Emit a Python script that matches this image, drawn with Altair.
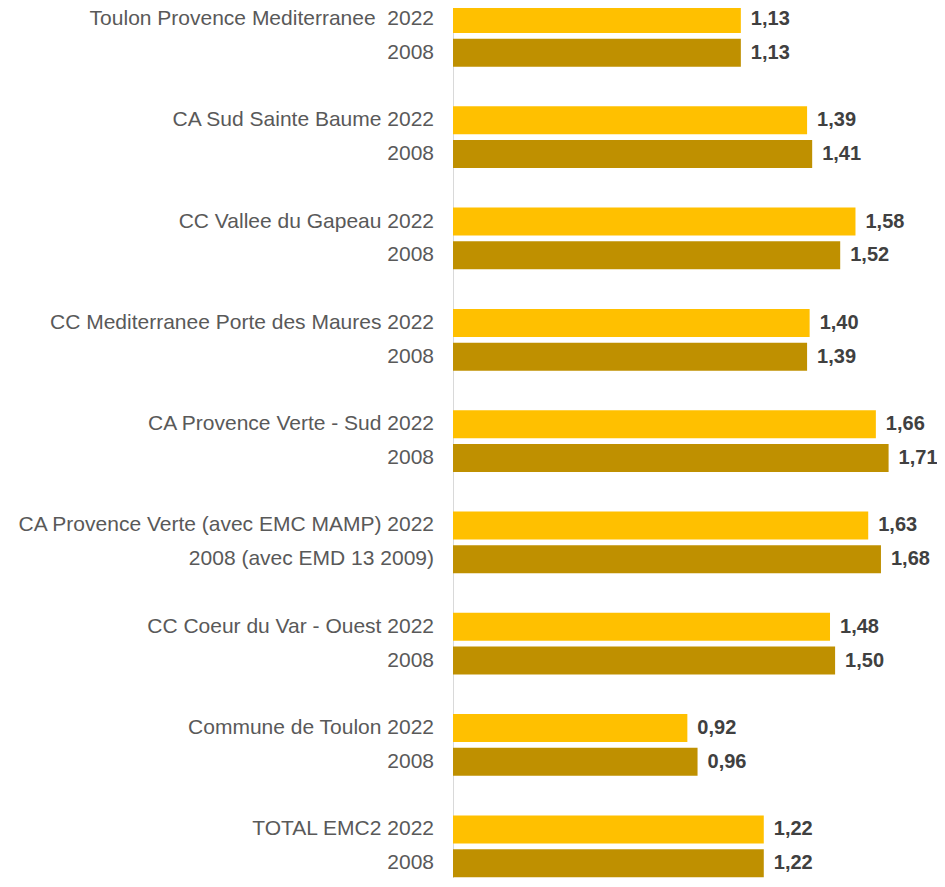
import altair as alt
import pandas as pd

groups = [
    "Toulon Provence Mediterranee\u00a0",
    "CA Sud Sainte Baume",
    "CC Vallee du Gapeau",
    "CC Mediterranee Porte des Maures",
    "CA Provence Verte - Sud",
    "CA Provence Verte (avec EMC MAMP)",
    "CC Coeur du Var - Ouest",
    "Commune de Toulon",
    "TOTAL EMC2",
]
labels_2008 = ["2008"] * 9
labels_2008[5] = "2008 (avec EMD 13 2009)"
values_2022 = [1.13, 1.39, 1.58, 1.40, 1.66, 1.63, 1.48, 0.92, 1.22]
values_2008 = [1.13, 1.41, 1.52, 1.39, 1.71, 1.68, 1.50, 0.96, 1.22]

rows = []
for i, g in enumerate(groups):
    rows.append({"label": f"{g} 2022", "serie": "2022", "value": values_2022[i], "slot": 3 * i})
    rows.append({"label": labels_2008[i], "serie": "2008", "value": values_2008[i], "slot": 3 * i + 1})
df = pd.DataFrame(rows)

W, H = 484, 870
yscale = alt.Scale(domain=[-0.326, 25.44], reverse=True, nice=False, zero=False, padding=0)
xscale = alt.Scale(domain=[0, 1.9], nice=False, padding=0)

base = alt.Chart(df).encode(
    y=alt.Y("slot:Q", scale=yscale,
            axis=alt.Axis(labels=False, ticks=False, grid=False, title=None,
                          domain=True, domainColor="#D9D9D9", domainWidth=1)),
)

bars = base.mark_bar(size=28, orient="horizontal").encode(
    x=alt.X("value:Q", scale=xscale, axis=None),
    color=alt.Color("serie:N", scale=alt.Scale(domain=["2022", "2008"], range=["#FFC000", "#BF9000"]), legend=None),
)

vals = base.transform_calculate(
    txt="replace(format(datum.value, '.2f'), '.', ',')"
).mark_text(align="left", baseline="middle", dx=10, font="Liberation Sans",
            fontSize=20, fontWeight="bold", color="#404040").encode(
    x=alt.X("value:Q", scale=xscale, axis=None),
    text="txt:N",
)

cats = base.mark_text(align="right", baseline="middle", font="Liberation Sans",
                      fontSize=21, color="#595959").encode(
    x=alt.value(-19),
    text="label:N",
)

chart = alt.layer(bars, vals, cats).properties(
    width=W, height=H,
    autosize=alt.AutoSizeParams(type="none"),
    padding={"left": 445, "top": 0, "right": 0, "bottom": 0},
).configure_view(stroke=None)

chart.save("out.html", embed_options={"renderer": "svg", "actions": False})
